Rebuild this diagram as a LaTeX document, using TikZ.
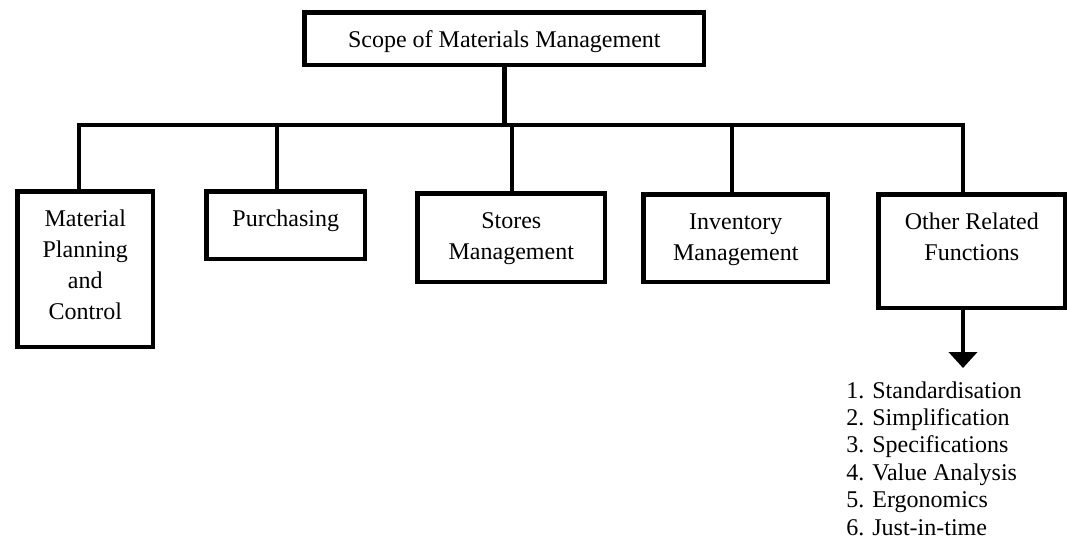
\documentclass[tikz,border=0pt]{standalone}
\usepackage{fontspec}
\setmainfont{Liberation Serif}
\usetikzlibrary{arrows.meta}

% text block hung from the top edge of a box of given width and height
\newcommand\boxtext[3]{\parbox[t][#2][t]{#1}{\centering\fontsize{12}{15.5}\selectfont\vspace*{6.5pt}\strut #3}}

\begin{document}
\begin{tikzpicture}[x=0.5pt, y=-0.5pt,
    thick line/.style={line width=2.3pt},
    stepbox/.style={draw, thick line, inner sep=0pt, anchor=north west},
    link/.style={thick line},
    pointer/.style={thick line, -{Triangle[width=14pt,length=8pt]}}]
  \useasboundingbox (0,0) rectangle (1067,538);

  % root
  \node[stepbox] (root) at (302.3,10.3) {\boxtext{199.7pt}{26.2pt}{Scope of Materials Management}};

  % branches
  \node[stepbox] (mpc)   at (15.3,189.3)  {\boxtext{67.7pt}{77.7pt}{Material\\Planning\\and\\Control}};
  \node[stepbox] (purch) at (204.3,189.3) {\boxtext{79.2pt}{33.7pt}{Purchasing}};
  \node[stepbox] (store) at (415.3,191.3) {\boxtext{93.7pt}{44.2pt}{Stores\\Management}};
  \node[stepbox] (inv)   at (641.3,192.3) {\boxtext{92.2pt}{43.7pt}{Inventory\\Management}};
  \node[stepbox] (other) at (876.3,192.3) {\boxtext{93.2pt}{56.7pt}{Other Related\\Functions}};

  % junctions on the horizontal bar
  \coordinate (j1) at (79,125);
  \coordinate (j2) at (277,125);
  \coordinate (j3) at (512,125);
  \coordinate (j4) at (732,125);
  \coordinate (j5) at (963,125);

  \draw[link] (root.south) -- (root.south |- j1);
  \draw[link] (j1 |- mpc.north) -- (j1) -- (j5) -- (j5 |- other.north);
  \draw[link] (j2) -- (j2 |- purch.north);
  \draw[link] (j3) -- (j3 |- store.north);
  \draw[link] (j4) -- (j4 |- inv.north);

  % list of related functions
  \coordinate (tip) at (963,368);
  \draw[pointer] (j5 |- other.south) -- (tip);
  \node[inner sep=0pt, anchor=base west] (list) at (846,398)
    {\parbox[t]{100pt}{\raggedright\fontsize{12}{13.7}\selectfont
      1. Standardisation\\
      2. Simplification\\
      3. Specifications\\
      4. Value Analysis\\
      5. Ergonomics\\
      6. Just-in-time}};
\end{tikzpicture}
\end{document}
